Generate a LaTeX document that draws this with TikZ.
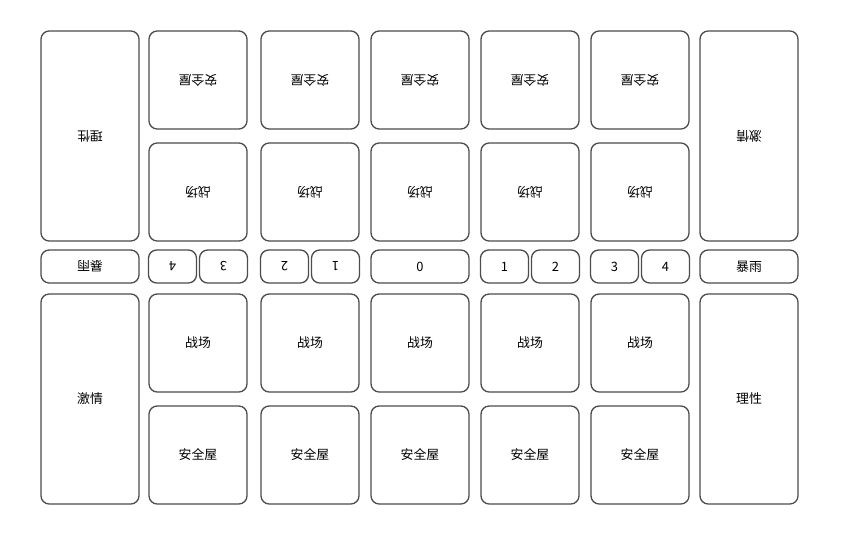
\documentclass[tikz,border=0pt]{standalone}
\usepackage{fontspec}
\setmainfont{Noto Sans CJK SC}
\tikzstyle{cell}=[draw=black!70,line width=1.1pt,rounded corners=7pt,minimum width=2.94cm,minimum height=2.94cm,inner sep=0pt,font=\fontsize{11}{13}\selectfont]
\tikzstyle{tallcell}=[cell,minimum height=6.3cm]
\tikzstyle{slot}=[cell,minimum height=0.99cm]
\tikzstyle{smallslot}=[slot,minimum width=1.44cm]
\tikzstyle{flip}=[rotate=180]
\begin{document}
\begin{tikzpicture}[x=0.03cm,y=-0.03cm]
\useasboundingbox (0,0) rectangle (842,533);

% side columns
\node[tallcell,flip] (lT) at (90,136) {理性};
\node[tallcell] (lB) at (90,399) {激情};
\node[tallcell,flip] (rT) at (749,136) {激情};
\node[tallcell] (rB) at (749,399) {理性};

% storm
\node[slot,flip] (lR) at (90,266.5) {暴雨};
\node[slot] (rR) at (749,266.5) {暴雨};

% board columns
\foreach \i/\x in {1/198,2/310,3/420,4/530,5/640}{
  \node[cell,flip] (tS\i) at (\x,80) {安全屋};
  \node[cell,flip] (tB\i) at (\x,192) {战场};
  \node[cell] (bB\i) at (\x,343) {战场};
  \node[cell] (bS\i) at (\x,455) {安全屋};
}

% track
\node[slot] (n0) at (420,266.5) {0};
\foreach \x/\name/\label/\deg in {172.5/nL4/4/180, 223.5/nL3/3/180, 284.5/nL2/2/180, 335.5/nL1/1/180,
    504.5/nR1/1/0, 555.5/nR2/2/0, 614.5/nR3/3/0, 665.5/nR4/4/0}
  \node[smallslot,rotate=\deg] (\name) at (\x,266.5) {\label};

\end{tikzpicture}
\end{document}
